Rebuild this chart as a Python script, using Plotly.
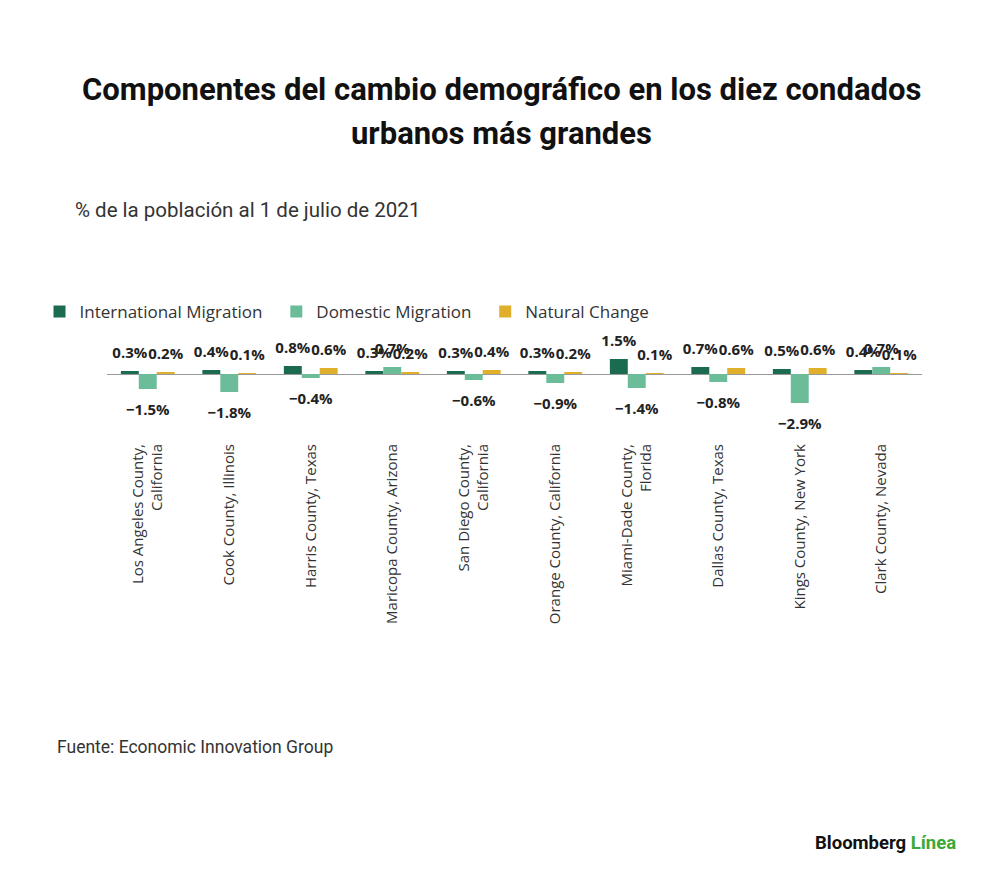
import plotly.graph_objects as go

counties = [
    "Los Angeles County,<br>California",
    "Cook County, Illinois",
    "Harris County, Texas",
    "Maricopa County, Arizona",
    "San Diego County,<br>California",
    "Orange County, California",
    "Miami-Dade County,<br>Florida",
    "Dallas County, Texas",
    "Kings County, New York",
    "Clark County, Nevada",
]
international = [0.3, 0.4, 0.8, 0.3, 0.3, 0.3, 1.5, 0.7, 0.5, 0.4]
domestic = [-1.5, -1.8, -0.4, 0.7, -0.6, -0.9, -1.4, -0.8, -2.9, 0.7]
natural = [0.2, 0.1, 0.6, 0.2, 0.4, 0.2, 0.1, 0.6, 0.6, 0.1]

series_names = ["International Migration", "Domestic Migration", "Natural Change"]
series_values = [international, domestic, natural]
series_colors = ["#1b6b50", "#6bbd9a", "#e0b02c"]
legend_pad = ["\u00a0\u00a0", "\u00a0\u00a0", ""]

# page offset of the plot inside the html body (default body margin)
OFF = 8
W, H = 1000, 887
L, R = 107 - OFF, W - (922 - OFF)
T, B = 344 - OFF, H - (440 - OFF)


def fmt(v):
    return f"{v:.1f}%".replace("-", "\u2212")


fig = go.Figure()
for i, (name, vals, color) in enumerate(zip(series_names, series_values, series_colors)):
    fig.add_trace(go.Bar(
        x=counties, y=vals, name=name + legend_pad[i],
        offsetgroup=str(i),
        marker=dict(color=color, line=dict(width=0)),
        hoverinfo="skip",
    ))
for i, vals in enumerate(series_values):
    fig.add_trace(go.Scatter(
        x=counties, y=vals, mode="markers+text",
        offsetgroup=str(i),
        marker=dict(size=[14 if v >= 0 else 22 for v in vals],
                    color="rgba(0,0,0,0)", opacity=0,
                    line=dict(width=0, color="rgba(0,0,0,0)")),
        text=[fmt(v) for v in vals],
        textposition=["top center" if v >= 0 else "bottom center" for v in vals],
        textfont=dict(family="Open Sans", size=15, color="#222222", weight=700),
        cliponaxis=False,
        showlegend=False,
        hoverinfo="skip",
    ))

fig.update_layout(
    width=W, height=H,
    paper_bgcolor="white", plot_bgcolor="white",
    margin=dict(l=L, r=R, t=T, b=B),
    barmode="group", bargap=0.34, bargroupgap=0,
    scattermode="group", scattergap=0.34,
    showlegend=True,
    legend=dict(
        orientation="h", xref="container", yref="container",
        x=(39.5 - OFF) / W, y=1 - (294 - OFF) / H, xanchor="left", yanchor="top",
        font=dict(family="Open Sans", size=17, color="#333333"),
        itemclick=False, itemdoubleclick=False,
    ),
    xaxis=dict(
        tickangle=-90, showgrid=False, showline=False, ticks="",
        tickfont=dict(family="Open Sans", size=15, color="#333333"),
        automargin=False,
    ),
    yaxis=dict(
        range=[-6.6, 3.0], showgrid=False, showticklabels=False,
        ticks="", zeroline=True, zerolinecolor="#999999", zerolinewidth=1,
        automargin=False,
    ),
)


def note(text, x, y, anchor, size, color="#333333", family="Roboto"):
    fig.add_annotation(
        text=text, xref="paper", yref="paper",
        x=(x - OFF - L) / (W - L - R), y=((H - B) - (y - OFF)) / (H - T - B),
        showarrow=False, xanchor=anchor, yanchor="middle",
        font=dict(family=family, size=size, color=color))


note("<b>Componentes del cambio demográfico en los diez condados</b>", 501, 89, "center", 31, "#111111")
note("<b>urbanos más grandes</b>", 501, 133, "center", 31, "#111111")
note("% de la población al 1 de julio de 2021", 73, 210, "left", 20.5)
note("Fuente: Economic Innovation Group", 55, 747, "left", 17.5)
note("<b>Bloomberg <span style='color:#3aa935'>Línea</span></b>", 958, 843, "right", 18.5, "#111111")

fig.write_html("out.html")
